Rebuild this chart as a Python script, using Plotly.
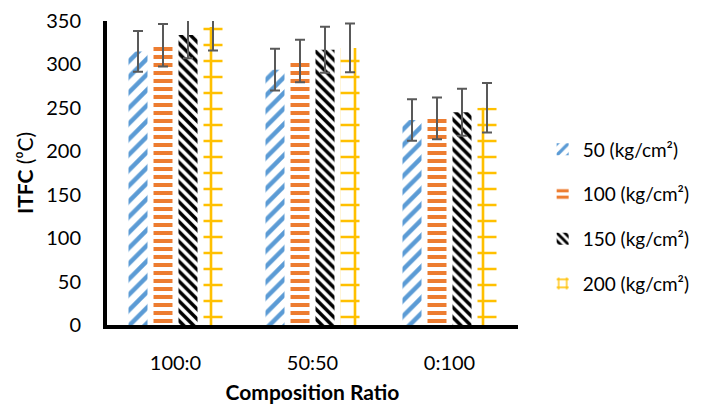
import plotly.graph_objects as go

categories = ["100:0", "50:50", "0:100"]
series_names = ["50 (kg/cm²)", "100 (kg/cm²)", "150 (kg/cm²)", "200 (kg/cm²)"]
vals_50 = [315, 294, 236]
vals_100 = [322, 304, 238]
vals_150 = [334, 317, 245]
vals_200 = [343, 319, 250]
err_50 = [23.5, 24, 24]
err_100 = [24.5, 24.5, 24]
err_150 = [27, 26.5, 27]
err_200 = [27, 28, 28.5]
y_ticks = [0, 50, 100, 150, 200, 250, 300, 350]

colors = ["#5B9BD5", "#ED7D31", "#000000", "#FFC000"]
patterns = [
    dict(shape="/", size=11, solidity=0.4),
    dict(shape="-", size=8, solidity=0.5),
    dict(shape="\\", size=7, solidity=0.5),
    dict(shape="+", size=16, solidity=0.3),
]

fig = go.Figure()
for i, (name, v, e) in enumerate(zip(series_names,
                                     [vals_50, vals_100, vals_150, vals_200],
                                     [err_50, err_100, err_150, err_200])):
    fig.add_trace(go.Bar(
        x=categories, y=v, name=name, legendgroup=f"g{i}",
        marker=dict(color="white", line=dict(width=0),
                    pattern=dict(fgcolor=colors[i], bgcolor="white",
                                 fillmode="replace", **patterns[i])),
        error_y=dict(type="data", array=e, visible=True, color="#595959",
                     thickness=2, width=5),
    ))

# page body has an 8px default margin; compensate in figure size/margins
fig.update_layout(
    width=699, height=403,
    margin=dict(l=99, r=189, t=13, b=86, autoexpand=False),
    paper_bgcolor="white", plot_bgcolor="white",
    font=dict(family="Lato, sans-serif", size=20, color="black"),
    barmode="group", bargap=0.27, bargroupgap=0.24,
    showlegend=True,
    legend=dict(x=1.06, xanchor="left", y=0.64, yanchor="top",
                tracegroupgap=17, font=dict(size=19),
                bgcolor="rgba(0,0,0,0)"),
    xaxis=dict(showline=True, linewidth=4, linecolor="black",
               ticks="outside", ticklen=17, tickcolor="rgba(0,0,0,0)",
               showgrid=False, automargin=False,
               title=dict(text="<b>Composition Ratio</b>", font=dict(size=21), standoff=13)),
    yaxis=dict(range=[0, 350], tickvals=y_ticks, showline=True, linewidth=4,
               linecolor="black", ticks="outside", ticklen=18,
               tickcolor="rgba(0,0,0,0)", showgrid=False, zeroline=False,
               automargin=False,
               title=dict(text="<b>ITFC</b> (⁰C)", font=dict(size=21), standoff=8)),
)

fig.write_html("out.html")
